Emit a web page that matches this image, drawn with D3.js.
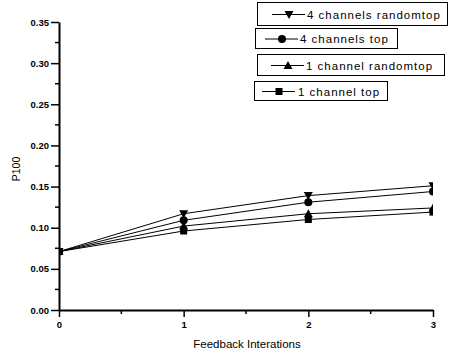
<!DOCTYPE html>
<html>
<head>
<meta charset="utf-8">
<script src="https://cdn.jsdelivr.net/npm/d3@7/dist/d3.min.js"></script>
<style>
    body { margin: 0; background: #fff; }
    text { font-family: "Liberation Sans", Arial, sans-serif; }
</style>
</head>
<body>
<script>
    // data
    var iterations = [0, 1, 2, 3];
    var chan4Random = [0.071, 0.117, 0.139, 0.151];
    var chan4Top = [0.071, 0.109, 0.131, 0.144];
    var chan1Random = [0.071, 0.102, 0.117, 0.124];
    var chan1Top = [0.071, 0.096, 0.110, 0.119];
    var seriesNames = ["4 channels randomtop", "4 channels top", "1 channel randomtop", "1 channel top"];
    var yTicks = [0, 0.05, 0.10, 0.15, 0.20, 0.25, 0.30, 0.35];

    var series = [
        { name: seriesNames[0], values: chan4Random, shape: "tridown" },
        { name: seriesNames[1], values: chan4Top, shape: "circle" },
        { name: seriesNames[2], values: chan1Random, shape: "triup" },
        { name: seriesNames[3], values: chan1Top, shape: "square" }
    ];

    var W = 453, H = 352;
    var padL = 59, padR = 433, padT = 22, padB = 310;

    var svg = d3.select("body").append("svg")
        .attr("width", W)
        .attr("height", H);

    var xScale = d3.scaleLinear().domain([0, 3]).range([padL, padR]);
    var yScale = d3.scaleLinear().domain([0, 0.35]).range([padB, padT]);

    svg.append("clipPath").attr("id", "plot")
        .append("rect")
        .attr("x", padL).attr("y", 0)
        .attr("width", padR - padL).attr("height", padB);

    // minor ticks
    var yMinor = d3.range(0.025, 0.35, 0.05);
    svg.append("g").selectAll("line").data(yMinor).enter().append("line")
        .attr("x1", padL - 4).attr("x2", padL)
        .attr("y1", function(d) { return yScale(d); })
        .attr("y2", function(d) { return yScale(d); })
        .attr("stroke", "#000").attr("stroke-width", 1.5);

    var xMinor = [0.5, 1.5, 2.5];
    svg.append("g").selectAll("line").data(xMinor).enter().append("line")
        .attr("y1", padB).attr("y2", padB + 4)
        .attr("x1", function(d) { return xScale(d); })
        .attr("x2", function(d) { return xScale(d); })
        .attr("stroke", "#000").attr("stroke-width", 1.5);

    var yAxis = svg.append("g")
        .attr("transform", "translate(" + padL + ",0)")
        .call(d3.axisLeft(yScale).tickValues(yTicks).tickFormat(d3.format(".2f")).tickSize(8).tickPadding(2).tickSizeOuter(0));

    var xAxis = svg.append("g")
        .attr("transform", "translate(0," + padB + ")")
        .call(d3.axisBottom(xScale).tickValues(iterations).tickFormat(d3.format("d")).tickSize(7).tickPadding(4).tickSizeOuter(0));

    [yAxis, xAxis].forEach(function(ax) {
        ax.select(".domain").attr("stroke-width", 2);
        ax.selectAll(".tick line").attr("stroke-width", 1.5);
        ax.selectAll("text")
            .style("font-size", "9.5px")
            .style("font-weight", "bold")
            .attr("fill", "#000");
    });

    svg.append("text")
        .attr("transform", "translate(20,169) rotate(-90)")
        .attr("text-anchor", "middle")
        .style("font-size", "10.5px")
        .text("P100");

    svg.append("text")
        .attr("x", 247).attr("y", 348)
        .attr("text-anchor", "middle")
        .style("font-size", "11.5px")
        .text("Feedback Interations");

    var line = d3.line()
        .x(function(d, i) { return xScale(iterations[i]); })
        .y(function(d) { return yScale(d); });

    function marker(sel, shape) {
        if (shape == "circle") {
            sel.append("circle").attr("r", 4);
        } else if (shape == "square") {
            sel.append("rect").attr("x", -3.5).attr("y", -3.5).attr("width", 7).attr("height", 7);
        } else if (shape == "triup") {
            sel.append("path").attr("d", "M0,-4.5L4.5,3.5L-4.5,3.5Z");
        } else {
            sel.append("path").attr("d", "M0,4.5L4.5,-3.5L-4.5,-3.5Z");
        }
    }

    var plot = svg.append("g").attr("clip-path", "url(#plot)");

    series.forEach(function(s) {
        plot.append("path")
            .datum(s.values)
            .attr("fill", "none")
            .attr("stroke", "#000")
            .attr("stroke-width", 1)
            .attr("d", line);

        s.values.forEach(function(v, i) {
            var g = plot.append("g")
                .attr("transform", "translate(" + xScale(iterations[i]) + "," + yScale(v) + ")")
                .attr("fill", "#000");
            marker(g, s.shape);
        });
    });

    // legend boxes, laid out like the original
    var legendBoxes = [
        { x: 257, y: 2, w: 190, h: 23, lx: 272, tx: 307 },
        { x: 255, y: 28, w: 142, h: 20, lx: 265, tx: 300 },
        { x: 257, y: 54, w: 187, h: 21, lx: 271, tx: 306 },
        { x: 254, y: 81, w: 133, h: 19, lx: 262, tx: 298 }
    ];

    series.forEach(function(s, i) {
        var b = legendBoxes[i];
        var g = svg.append("g");
        g.append("rect")
            .attr("x", b.x + 0.5).attr("y", b.y + 0.5)
            .attr("width", b.w).attr("height", b.h)
            .attr("fill", "#fff").attr("stroke", "#000").attr("stroke-width", 1);
        var cy = b.y + b.h / 2 + 1;
        g.append("line")
            .attr("x1", b.lx).attr("x2", b.lx + 33)
            .attr("y1", cy).attr("y2", cy)
            .attr("stroke", "#000");
        var m = g.append("g")
            .attr("transform", "translate(" + (b.lx + 17) + "," + cy + ")")
            .attr("fill", "#000");
        marker(m, s.shape);
        g.append("text")
            .attr("x", b.tx).attr("y", cy + 4)
            .style("font-size", "11.5px")
            .style("letter-spacing", "1px")
            .text(s.name);
    });
</script>
</body>
</html>
